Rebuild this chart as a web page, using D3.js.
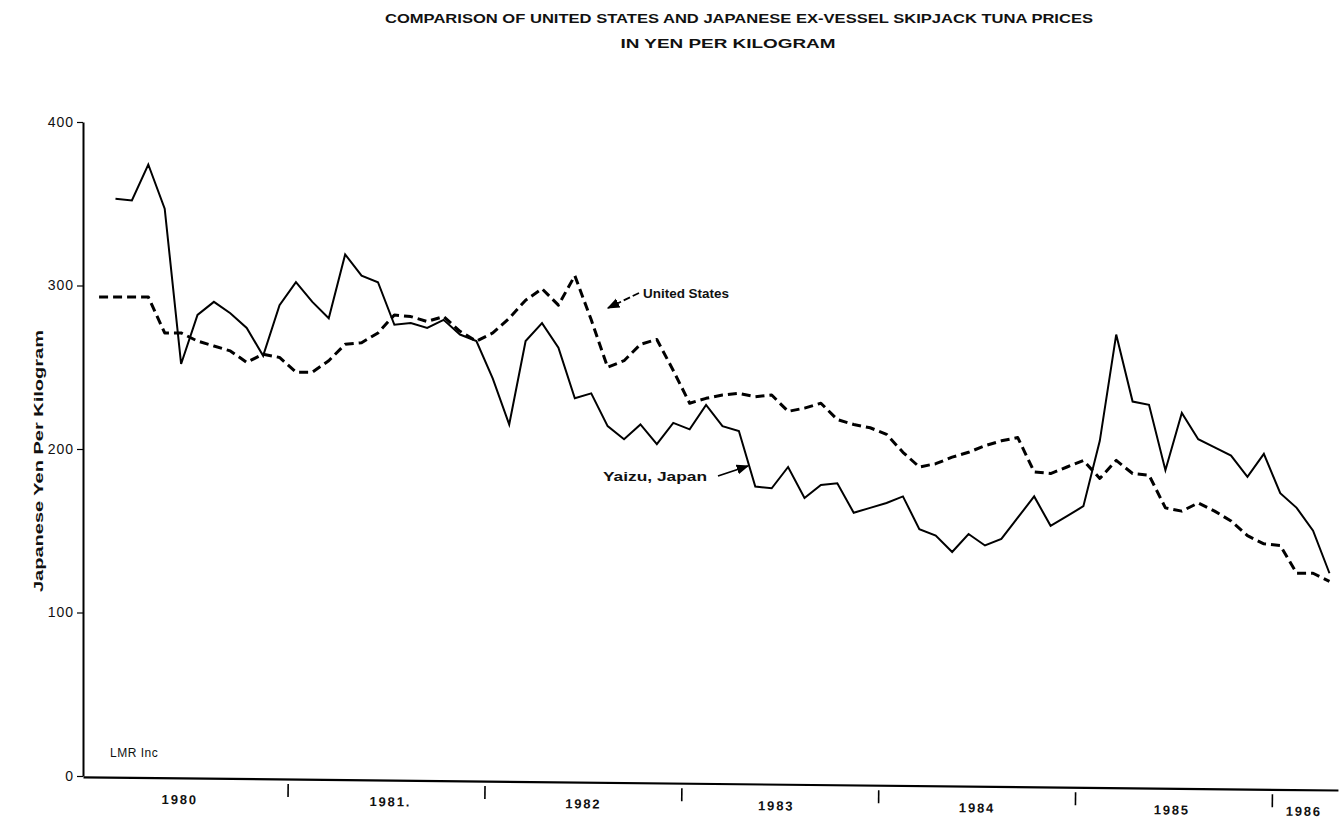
<!DOCTYPE html>
<html>
<head>
<meta charset="utf-8">
<script src="https://cdn.jsdelivr.net/npm/d3@7"></script>
<style>
  body { margin: 0; background: #fff; }
  svg text { font-family: "Liberation Sans", Arial, sans-serif; fill: #111; }
</style>
</head>
<body>
<div id="chart"></div>
<script>
// monthly ex-vessel prices, yen per kg, starting Jan 1980
var usPrices = [293, 293, 293, 293, 271, 271, 266, 263, 260, 253, 258, 256,
                247, 247, 254, 264, 265, 271, 282, 281, 278, 281, 272, 266,
                271, 280, 291, 298, 288, 306, 279, 250, 254, 264, 267, 248,
                228, 231, 233, 234, 232, 233, 223, 225, 228, 218, 215, 213,
                209, 198, 189, 191, 195, 198, 202, 205, 207, 186, 185, 189,
                193, 182, 193, 185, 184, 164, 162, 167, 162, 156, 147, 142,
                141, 124, 124, 119];
// Yaizu series starts one month later (Feb 1980)
var yaizuStart = 1;
var yaizuPrices = [353, 352, 374, 347, 252, 282, 290, 283, 274, 257, 288,
                   302, 290, 280, 319, 306, 302, 276, 277, 274, 279, 270, 266,
                   243, 215, 266, 277, 262, 231, 234, 214, 206, 215, 203, 216,
                   212, 227, 214, 211, 177, 176, 189, 170, 178, 179, 161, 164,
                   167, 171, 151, 147, 137, 148, 141, 145, 158, 171, 153, 159,
                   165, 205, 270, 229, 227, 187, 222, 206, 201, 196, 183, 197,
                   173, 164, 150, 124];
var startYear = 1980;
var yearBreaks = [1981, 1982, 1983, 1984, 1985, 1986];
var yearLabels = ['1980', '1981.', '1982', '1983', '1984', '1985', '1986'];
var yearLabelPos = [1980.45, 1981.52, 1982.5, 1983.48, 1984.5, 1985.49, 1986.16];
var yTicks = [0, 100, 200, 300, 400];

var width = 1342, height = 820;

var svg = d3.select("#chart").append("svg")
    .attr("width", width)
    .attr("height", height);

var x = d3.scaleLinear().domain([1979.96, 1986.335]).range([83, 1338]);
var y = d3.scaleLinear().domain([0, 400]).range([776, 122]);

function monthTime(i) { return startYear + (i + 0.5) / 12; }

var usData = usPrices.map(function (v, i) { return {t: monthTime(i), v: v}; });
var yaizuData = yaizuPrices.map(function (v, i) { return {t: monthTime(i + yaizuStart), v: v}; });

// titles
svg.append("text")
    .attr("x", 739).attr("y", 23)
    .attr("text-anchor", "middle")
    .attr("textLength", 708).attr("lengthAdjust", "spacingAndGlyphs")
    .style("font-size", "13px").style("font-weight", "bold")
    .text("COMPARISON OF UNITED STATES AND JAPANESE EX-VESSEL SKIPJACK TUNA PRICES");

svg.append("text")
    .attr("x", 728).attr("y", 48)
    .attr("text-anchor", "middle")
    .attr("textLength", 215).attr("lengthAdjust", "spacingAndGlyphs")
    .style("font-size", "13px").style("font-weight", "bold")
    .text("IN YEN PER KILOGRAM");

// y axis
var yAxis = svg.append("g")
    .attr("transform", "translate(83,0)")
    .call(d3.axisLeft(y).tickValues(yTicks).tickSize(6).tickPadding(3).tickSizeOuter(0));
yAxis.select(".domain").attr("stroke", "#000").attr("stroke-width", 2);
yAxis.selectAll(".tick line").attr("stroke", "#000").attr("stroke-width", 1.2);
yAxis.selectAll(".tick text")
    .style("font-size", "14px")
    .style("letter-spacing", "1px")
    .attr("fill", "#111");

svg.append("text")
    .attr("transform", "translate(43,461) rotate(-90)")
    .attr("text-anchor", "middle")
    .attr("textLength", 262).attr("lengthAdjust", "spacingAndGlyphs")
    .style("font-size", "12px").style("font-weight", "bold")
    .text("Japanese Yen Per Kilogram");

// x axis, slightly skewed like the scanned original
var xAxisG = svg.append("g")
    .attr("transform", "translate(0,776) rotate(0.6)");

var xAxis = xAxisG.append("g")
    .call(d3.axisBottom(x).tickValues(yearBreaks).tickFormat("").tickSize(18).tickSizeOuter(0));
xAxis.select(".domain").attr("stroke", "#000").attr("stroke-width", 2.2);
xAxis.selectAll(".tick line").attr("y1", 5).attr("stroke", "#000").attr("stroke-width", 1.6);

var xLabels = xAxisG.append("g")
    .call(d3.axisBottom(x).tickValues(yearLabelPos)
        .tickFormat(function (d, i) { return yearLabels[i]; })
        .tickSize(0).tickPadding(17));
xLabels.select(".domain").remove();
xLabels.selectAll(".tick text")
    .style("font-size", "13px")
    .style("font-weight", "bold")
    .style("letter-spacing", "1.8px")
    .attr("fill", "#111");

// lines
var line = d3.line()
    .x(function (d) { return x(d.t); })
    .y(function (d) { return y(d.v); });

svg.append("path")
    .datum(usData)
    .attr("fill", "none")
    .attr("stroke", "#000")
    .attr("stroke-width", 3)
    .attr("stroke-dasharray", "9,5")
    .attr("stroke-linejoin", "round")
    .attr("d", line);

svg.append("path")
    .datum(yaizuData)
    .attr("fill", "none")
    .attr("stroke", "#000")
    .attr("stroke-width", 2)
    .attr("stroke-linejoin", "miter")
    .attr("d", line);

// arrows
svg.append("defs").append("marker")
    .attr("id", "arrow")
    .attr("viewBox", "0 0 10 10")
    .attr("refX", 9).attr("refY", 5)
    .attr("markerWidth", 7).attr("markerHeight", 7)
    .attr("orient", "auto")
    .append("path")
    .attr("d", "M0,1L10,5L0,9Z")
    .attr("fill", "#000");

svg.append("line")
    .attr("x1", 639).attr("y1", 293)
    .attr("x2", 608).attr("y2", 308)
    .attr("stroke", "#000").attr("stroke-width", 1.8)
    .attr("stroke-dasharray", "7,3")
    .attr("marker-end", "url(#arrow)");

svg.append("text")
    .attr("x", 643).attr("y", 298)
    .attr("textLength", 86).attr("lengthAdjust", "spacingAndGlyphs")
    .style("font-size", "12px").style("font-weight", "bold")
    .text("United States");

svg.append("line")
    .attr("x1", 718).attr("y1", 476)
    .attr("x2", 748).attr("y2", 466)
    .attr("stroke", "#000").attr("stroke-width", 1.8)
    .attr("marker-end", "url(#arrow)");

svg.append("text")
    .attr("x", 603).attr("y", 481)
    .attr("textLength", 104).attr("lengthAdjust", "spacingAndGlyphs")
    .style("font-size", "13px").style("font-weight", "bold")
    .text("Yaizu, Japan");

svg.append("text")
    .attr("x", 110).attr("y", 757)
    .style("font-size", "12px")
    .style("letter-spacing", "0.5px")
    .text("LMR Inc");
</script>
</body>
</html>
